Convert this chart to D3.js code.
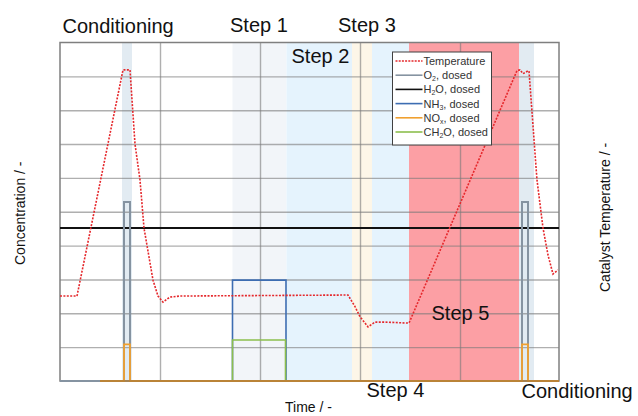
<!DOCTYPE html>
<html>
<head>
<meta charset="utf-8">
<script src="https://cdn.jsdelivr.net/npm/d3@7"></script>
<style>
  body { margin: 0; background: #fff; }
  svg { display: block; font-family: 'Liberation Sans', Arial, sans-serif; }
</style>
</head>
<body>
<svg id="chart" width="638" height="416"></svg>
<script>
// time in arbitrary units, concentration / temperature in grid units (0..10)
var phaseNames = ['Conditioning', 'Step 1', 'Step 2', 'Step 3', 'Step 4', 'Step 5', 'Conditioning'];
var phaseStart = [62, 172.5, 226.5, 292, 312, 349, 459];
var phaseEnd   = [72, 226.5, 292, 312, 349, 459, 474];

var tempTime  = [0, 17, 63, 70, 75, 80, 84, 93, 98, 103, 110, 120, 288, 295, 300, 308, 315, 325, 349, 457, 460, 463, 468, 469, 476, 477, 483, 488, 493, 498];
var tempValue = [2.51, 2.51, 9.19, 9.19, 7.0, 5.94, 4.52, 2.98, 2.51, 2.33, 2.48, 2.51, 2.54, 2.2, 1.9, 1.6, 1.74, 1.74, 1.71, 9.17, 9.19, 9.08, 9.16, 9.16, 6.33, 5.94, 4.52, 3.72, 3.16, 3.28];

var h2oTime  = [0, 499];
var h2oValue = [4.52, 4.52];

var o2Time  = [0, 64, 64, 70, 70, 462, 462, 468, 468, 499];
var o2Value = [0, 0, 5.29, 5.29, 0, 0, 5.29, 5.29, 0, 0];

var nh3Time  = [172.5, 172.5, 226, 226];
var nh3Value = [0, 2.98, 2.98, 0];

var noxTime  = [40, 64, 64, 70, 70, 462, 462, 468, 468, 499];
var noxValue = [0, 0, 1.08, 1.08, 0, 0, 1.08, 1.08, 0, 0];

var ch2oTime  = [172.5, 172.5, 225.5, 225.5];
var ch2oValue = [0, 1.21, 1.21, 0];

var legendLabels = [
  ['Temperature', '', ''],
  ['O', '2', ', dosed'],
  ['H', '2', 'O, dosed'],
  ['NH', '3', ', dosed'],
  ['NO', 'x', ', dosed'],
  ['CH', '2', 'O, dosed']
];

var phaseColors = ['#e2ebf2', '#f2f5f9', '#e5f3fd', '#fdf6e8', '#e5f3fd', '#fc9fa4', '#e2ebf2'];
var seriesColors = ['#e5282c', '#8593a1', '#111111', '#3d6db2', '#f0a030', '#8cbe4e'];

var svg = d3.select('#chart');
var plotL = 60, plotR = 559, plotT = 42.5, plotB = 381;

var x = d3.scaleLinear().domain([0, 499]).range([plotL, plotR]);
var y = d3.scaleLinear().domain([0, 10]).range([plotB, plotT]);
var yTemp = d3.scaleLinear().domain([0, 10]).range([plotB, plotT]);

// phase shading
svg.append('g').selectAll('rect')
  .data(phaseStart)
  .enter().append('rect')
  .attr('x', function(d) { return x(d); })
  .attr('y', plotT)
  .attr('width', function(d, i) { return x(phaseEnd[i]) - x(d); })
  .attr('height', plotB - plotT)
  .attr('fill', function(d, i) { return phaseColors[i]; });

// grid
var gy = svg.append('g')
  .attr('transform', 'translate(' + plotL + ',0)')
  .call(d3.axisLeft(y).tickValues(d3.range(1, 10)).tickSize(-(plotR - plotL)).tickFormat(''));
var gx = svg.append('g')
  .attr('transform', 'translate(0,' + plotB + ')')
  .call(d3.axisBottom(x).tickValues([100, 200, 300, 400]).tickSize(-(plotB - plotT)).tickFormat(''));
[gy, gx].forEach(function(g) {
  g.select('.domain').remove();
  g.selectAll('line').attr('stroke', '#7a7a7a').attr('stroke-opacity', 0.6).attr('stroke-width', 1.4);
});

function zip(t, v) {
  return t.map(function(d, i) { return [d, v[i]]; });
}
var line = d3.line()
  .x(function(d) { return x(d[0]); })
  .y(function(d) { return y(d[1]); });
var tempLine = d3.line()
  .x(function(d) { return x(d[0]); })
  .y(function(d) { return yTemp(d[1]); });

// frame
svg.append('rect')
  .attr('x', plotL).attr('y', plotT)
  .attr('width', plotR - plotL).attr('height', plotB - plotT)
  .attr('fill', 'none').attr('stroke', '#7f7f7f').attr('stroke-width', 1.5);

var series = [
  {data: zip(h2oTime, h2oValue), color: seriesColors[2], w: 2},
  {data: zip(o2Time, o2Value), color: seriesColors[1], w: 2},
  {data: zip(nh3Time, nh3Value), color: seriesColors[3], w: 1.6},
  {data: zip(ch2oTime, ch2oValue), color: seriesColors[5], w: 1.6},
  {data: zip(noxTime, noxValue), color: seriesColors[4], w: 1.8}
];
series.forEach(function(s) {
  svg.append('path')
    .attr('d', line(s.data))
    .attr('fill', 'none')
    .attr('stroke', s.color)
    .attr('stroke-width', s.w);
});
// baseline where several dosed signals overlap at zero
svg.append('path')
  .attr('d', line([[noxTime[0], 0], [499, 0]]))
  .attr('stroke', '#a87a3a').attr('stroke-width', 1.4);

svg.append('path')
  .attr('d', tempLine(zip(tempTime, tempValue)))
  .attr('fill', 'none')
  .attr('stroke', seriesColors[0])
  .attr('stroke-width', 1.6)
  .attr('stroke-dasharray', '2,1.4');

// legend
var lg = svg.append('g').attr('transform', 'translate(392.5,52)');
lg.append('rect')
  .attr('width', 99).attr('height', 93)
  .attr('fill', '#fff').attr('stroke', '#404040').attr('stroke-width', 1);
var items = lg.selectAll('g.item')
  .data(legendLabels)
  .enter().append('g')
  .attr('class', 'item')
  .attr('transform', function(d, i) { return 'translate(0,' + (9 + i * 14.2) + ')'; });
items.append('line')
  .attr('x1', 3).attr('x2', 30).attr('y1', 0).attr('y2', 0)
  .attr('stroke', function(d, i) { return seriesColors[i]; })
  .attr('stroke-width', function(d, i) { return i === 0 ? 1.4 : 1.6; })
  .attr('stroke-dasharray', function(d, i) { return i === 0 ? '2,1.2' : null; });
var lt = items.append('text')
  .attr('x', 31).attr('y', 4)
  .attr('font-size', 11)
  .attr('fill', '#333');
lt.append('tspan').text(function(d) { return d[0]; });
lt.append('tspan').attr('font-size', 7).attr('dy', 2).text(function(d) { return d[1]; });
lt.append('tspan').attr('dy', -2).text(function(d) { return d[2]; });

// phase labels
function label(txt, px, py) {
  svg.append('text')
    .attr('x', px).attr('y', py)
    .attr('font-size', 20)
    .attr('fill', '#111')
    .text(txt);
}
label(phaseNames[0], 62.5, 33);
label(phaseNames[1], 230, 31.5);
label(phaseNames[2], 291.5, 63);
label(phaseNames[3], 338, 31.5);
label(phaseNames[4], 366.5, 397);
label(phaseNames[5], 431.5, 320);
label(phaseNames[6], 521.5, 398);

// axis titles
svg.append('text')
  .attr('transform', 'translate(25,265) rotate(-90)')
  .attr('font-size', 14).attr('fill', '#111')
  .text('Concentration / -');
svg.append('text')
  .attr('transform', 'translate(610,292) rotate(-90)')
  .attr('font-size', 14).attr('fill', '#111')
  .text('Catalyst Temperature / -');
svg.append('text')
  .attr('x', 285).attr('y', 412)
  .attr('font-size', 14).attr('fill', '#111')
  .text('Time / -');
</script>
</body>
</html>
